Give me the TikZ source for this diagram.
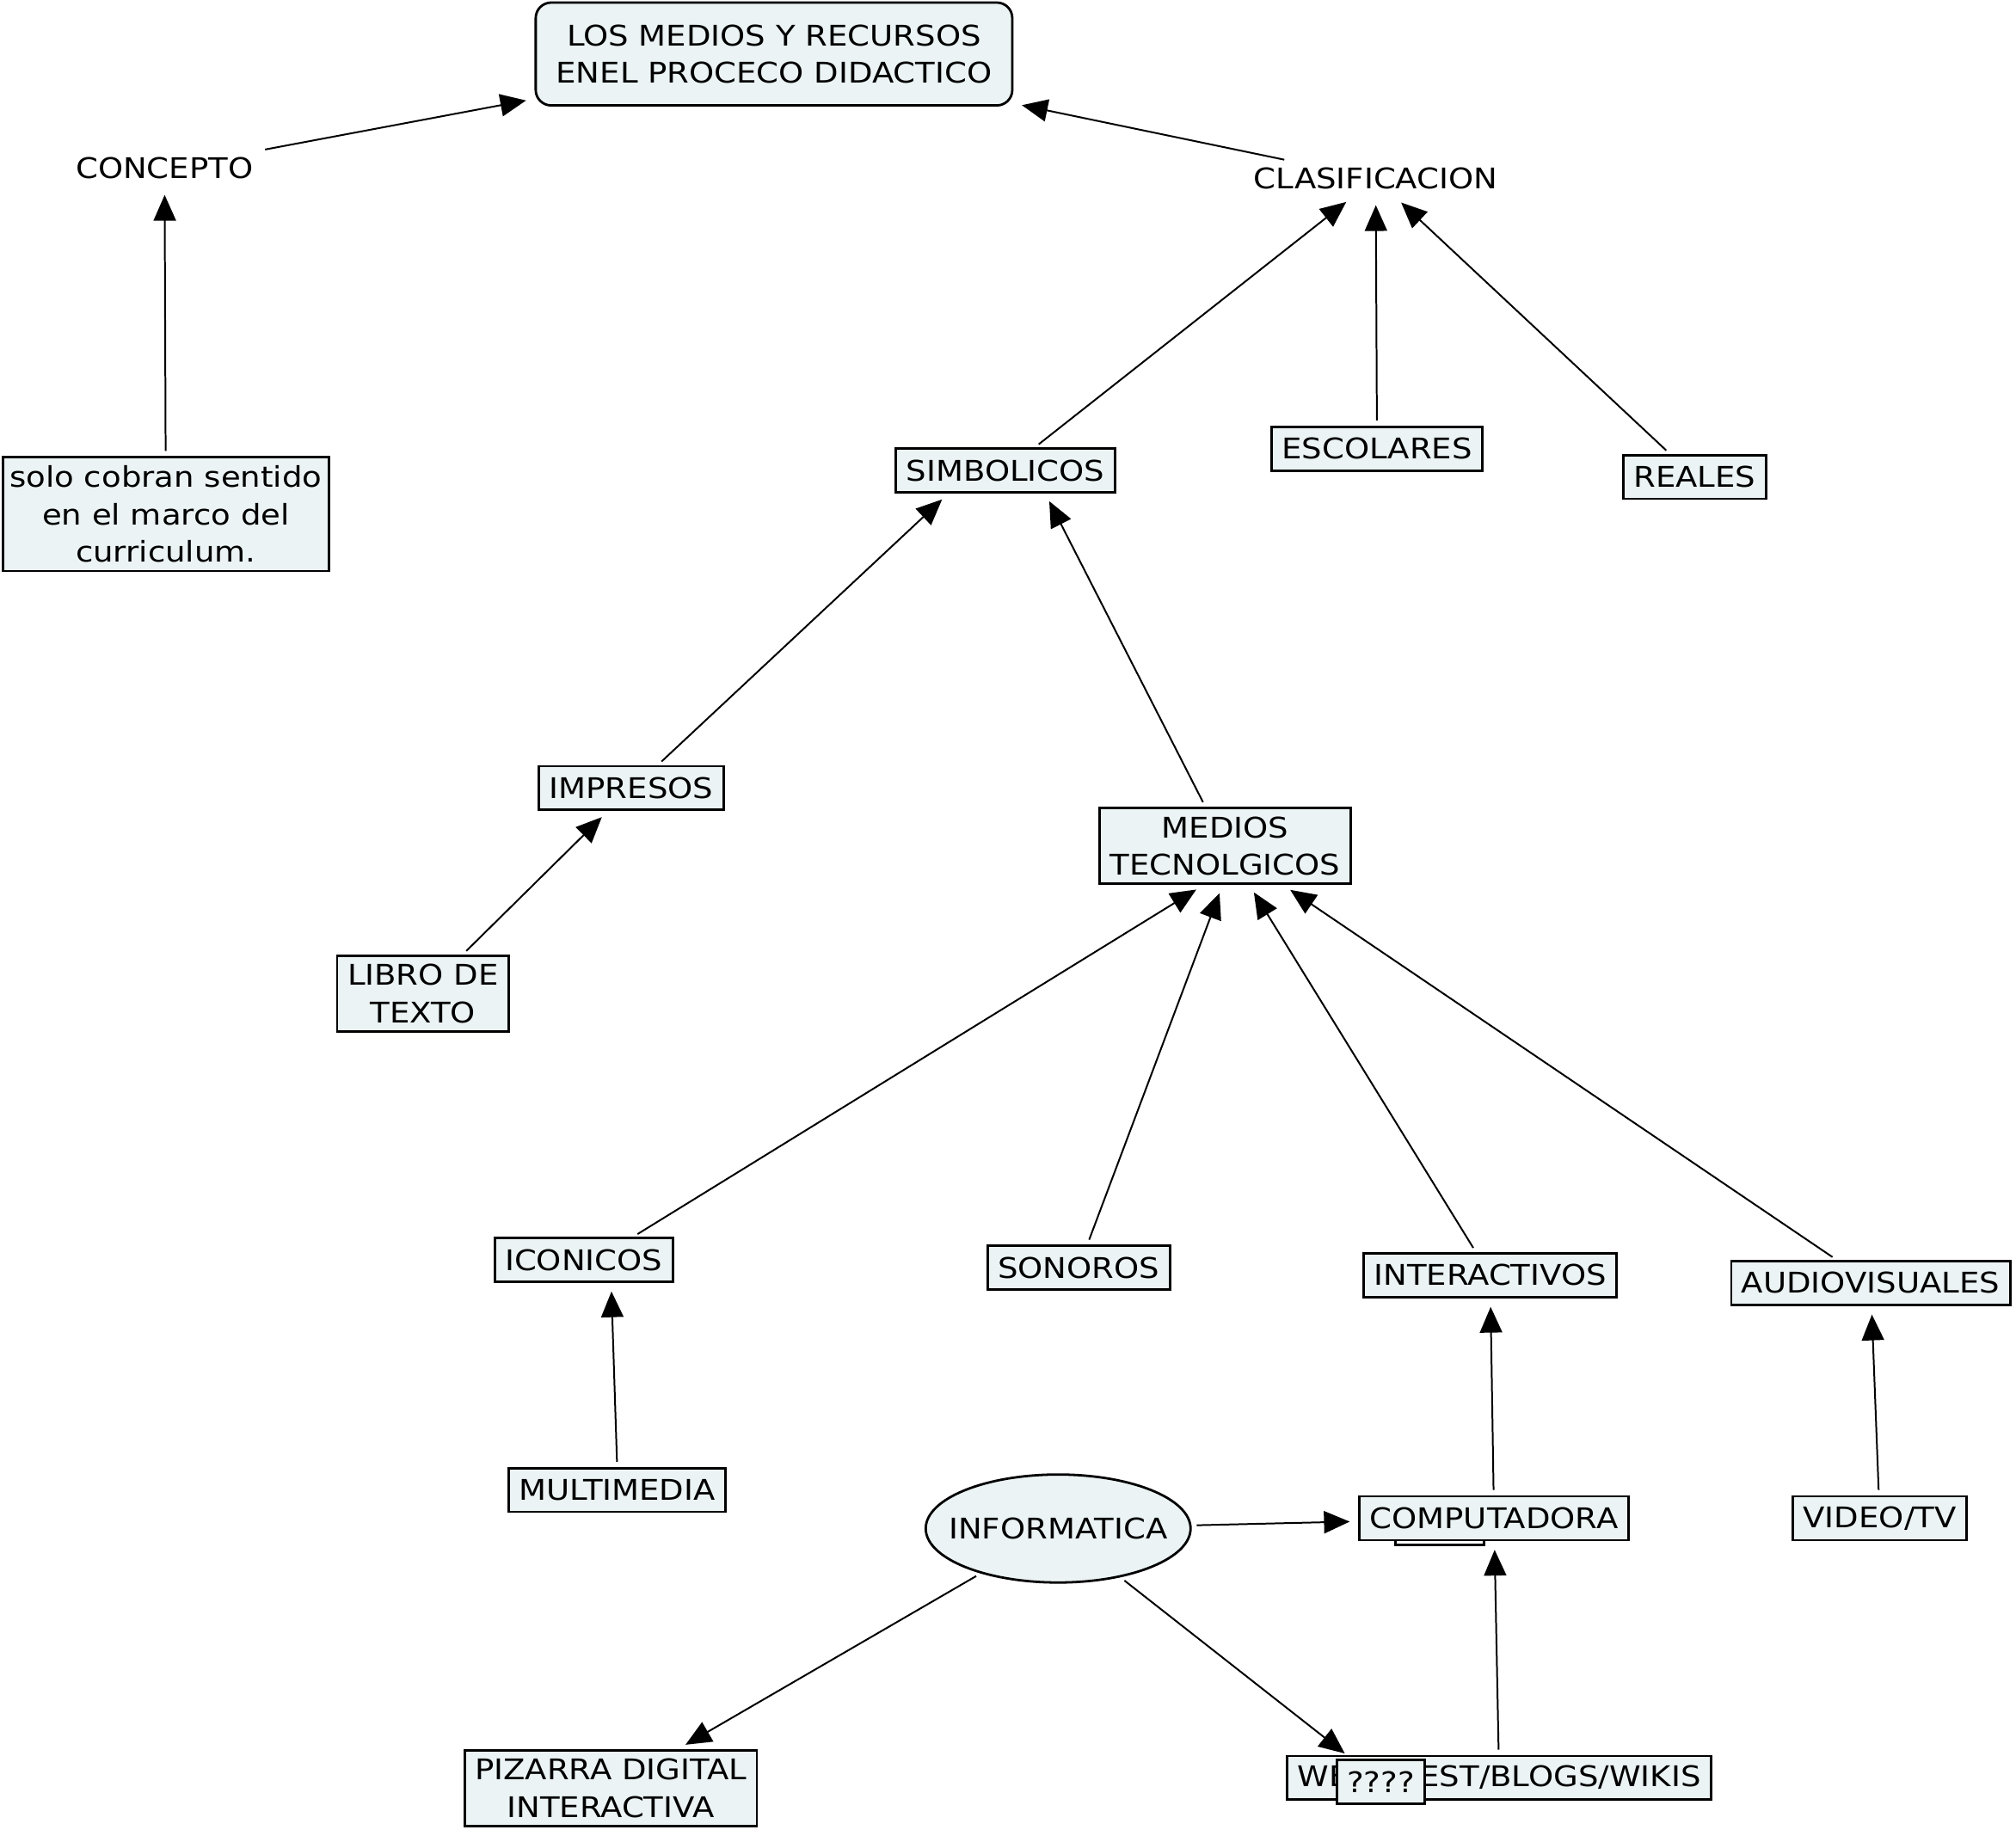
\documentclass[tikz,border=0pt]{standalone}
\usepackage{fontspec}
\setmainfont{DejaVu Sans}[FakeStretch=1.12]
\usetikzlibrary{arrows.meta,shapes.geometric}
\definecolor{relleno}{HTML}{EBF3F4}
\begin{document}
\begin{tikzpicture}[x=0.75pt,y=-0.75pt,
	font=\fontsize{16.6}{21.75}\selectfont,
	>={Triangle[length=15pt,width=13pt]},
	caja/.style={draw,line width=1.4pt,fill=relleno,inner xsep=6pt,inner ysep=5pt,minimum height=25.5pt,align=center},
	titulo/.style={caja,rounded corners=9pt,minimum width=278pt,minimum height=60pt},
	texto/.style={inner sep=4pt},
	elipse/.style={ellipse,draw,line width=1.4pt,fill=relleno,minimum width=154.5pt,minimum height=63pt,inner sep=0pt},
	flecha/.style={->,line width=1pt,shorten >=5pt,shorten <=3pt}]
	\useasboundingbox (0,0) rectangle (1568,1428);

	% nivel superior
	\node[titulo] (recursos) at (602,42) {LOS MEDIOS Y RECURSOS\\ENEL PROCECO DIDACTICO};
	\node[texto] (concepto) at (128,131) {CONCEPTO};
	\node[texto] (clasificacion) at (1070,139) {CLASIFICACION};
	\node[caja,inner xsep=4pt] (curriculum) at (129,400) {solo cobran sentido\\en el marco del\\curriculum.};

	\node[caja] (simbolicos) at (782,366) {SIMBOLICOS};
	\node[caja] (escolares) at (1071,349) {ESCOLARES};
	\node[caja] (reales) at (1318,371) {REALES};
	\node[caja] (impresos) at (491,613) {IMPRESOS};
	\node[caja] (tecnologicos) at (953,658) {MEDIOS\\TECNOLGICOS};
	\node[caja] (libro) at (329,773) {LIBRO DE\\TEXTO};

	% medios tecnologicos
	\node[caja] (iconicos) at (454,980) {ICONICOS};
	\node[caja] (sonoros) at (839,986) {SONOROS};
	\node[caja] (interactivos) at (1159,992) {INTERACTIVOS};
	\node[caja] (audiovisuales) at (1455,998) {AUDIOVISUALES};
	\node[caja] (multimedia) at (480,1159) {MULTIMEDIA};
	\node[elipse] (informatica) at (823,1189) {\makebox[0pt]{INFORMATICA}};
	\node[draw,line width=1.4pt,fill=white,minimum width=51.75pt,minimum height=9pt,inner sep=0pt] (sombra) at (1120,1196) {};
	\node[caja] (computadora) at (1162,1181) {COMPUTADORA};
	\node[caja] (videotv) at (1462,1181) {VIDEO/TV};
	\node[caja] (pizarra) at (475,1391) {PIZARRA DIGITAL\\INTERACTIVA};
	\node[caja] (webquest) at (1166,1383) {WEBQUEST/BLOGS/WIKIS};
	\node[caja] (q) at (1074,1386) {????};

	\draw[flecha] (concepto) -- (recursos);
	\draw[flecha] (clasificacion) -- (recursos);
	\draw[flecha] (curriculum) -- (concepto);
	\draw[flecha] (simbolicos) -- (clasificacion);
	\draw[flecha] (escolares) -- (clasificacion);
	\draw[flecha] (reales) -- (clasificacion);
	\draw[flecha] (impresos.41) -- (simbolicos.202);
	\draw[flecha] (tecnologicos) -- (simbolicos.330);
	\draw[flecha] (libro) -- (impresos);
	\draw[flecha] (iconicos.25) -- (tecnologicos.241);
	\draw[flecha] (sonoros) -- (tecnologicos.266);
	\draw[flecha] (interactivos) -- (tecnologicos);
	\draw[flecha] (audiovisuales) -- (tecnologicos);
	\draw[flecha] (multimedia.north) -- (iconicos.320);
	\draw[flecha] (videotv) -- (audiovisuales);
	\draw[flecha] (computadora) -- (interactivos);
	\draw[flecha] (informatica) -- (computadora);
	\draw[flecha] (informatica) -- (pizarra);
	\draw[flecha] (informatica) -- (q);
	\draw[flecha] (webquest) -- (computadora);
\end{tikzpicture}
\end{document}
